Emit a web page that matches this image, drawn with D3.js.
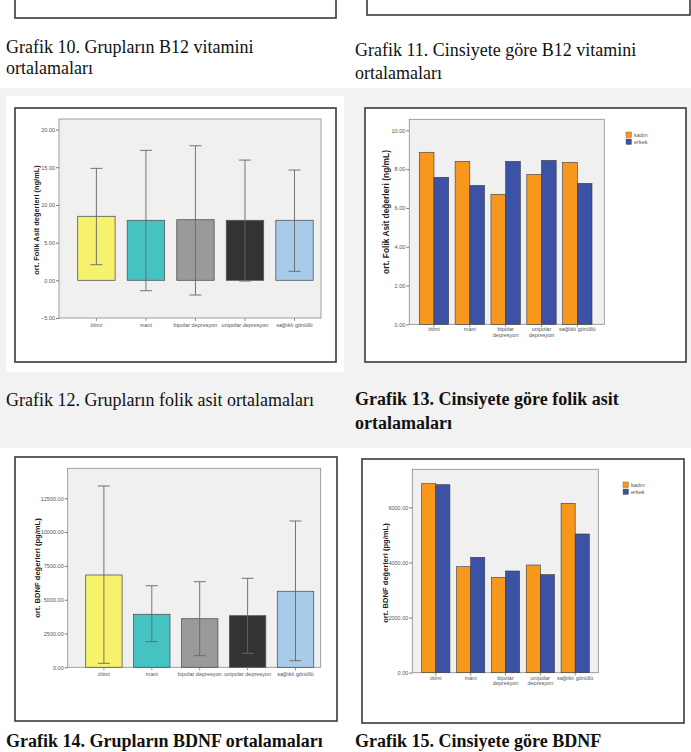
<!DOCTYPE html>
<html><head><meta charset="utf-8">
<script src="https://cdn.jsdelivr.net/npm/d3@7"></script>
<style>body{margin:0;background:#fff}svg{display:block}</style>
</head><body>
<script>
// ---------- DATA ----------
const groups = ["ötimi","mani","bipolar depresyon","unipolar depresyon","sağlıklı gönüllü"];
const groupLines = [["ötimi"],["mani"],["bipolar","depresyon"],["unipolar","depresyon"],["sağlıklı gönüllü"]];
const sexes = ["kadın","erkek"];
const groupColors = ["#f6f26c","#45c2c2","#9a9a9a","#333333","#a9cbea"];
const sexColors = ["#f7981d","#3c52a4"];

const folikMean = [8.49, 7.96, 8.04, 7.96, 7.96];
const folikLow  = [2.07, -1.38, -1.95, -0.10, 1.19];
const folikHigh = [14.85, 17.24, 17.85, 15.95, 14.63];
const folikTicks = [-5, 0, 5, 10, 15, 20];

const folikKadin = [8.87, 8.40, 6.70, 7.73, 8.35];
const folikErkek = [7.58, 7.16, 8.40, 8.45, 7.27];
const folikTicks2 = [0, 2, 4, 6, 8, 10];

const bdnfMean = [6827, 3920, 3595, 3817, 5621];
const bdnfLow  = [296, 1894, 858, 1035, 488];
const bdnfHigh = [13410, 6036, 6331, 6583, 10821];
const bdnfTicks = [0, 2500, 5000, 7500, 10000, 12500];

const bdnfKadin = [6858, 3846, 3461, 3908, 6146];
const bdnfErkek = [6821, 4187, 3690, 3556, 5033];
const bdnfTicks2 = [0, 2000, 4000, 6000];

const captions = [
  {x:6, y:53, lines:["Grafik 10. Grupların B12 vitamini","ortalamaları"], bold:false, lh:21},
  {x:355, y:56, lines:["Grafik 11. Cinsiyete göre B12 vitamini","ortalamaları"], bold:false, lh:23},
  {x:6, y:406, lines:["Grafik 12. Grupların folik asit ortalamaları"], bold:false, lh:23},
  {x:355, y:405, lines:["Grafik 13. Cinsiyete göre folik asit","ortalamaları"], bold:true, lh:24},
  {x:6, y:747, lines:["Grafik 14. Grupların BDNF ortalamaları"], bold:true, lh:23},
  {x:355, y:747, lines:["Grafik 15. Cinsiyete göre BDNF"], bold:true, lh:23}
];

// ---------- PAGE ----------
const W = 691, H = 752;
const svg = d3.select("body").append("svg").attr("width", W).attr("height", H);
svg.append("rect").attr("width", W).attr("height", H).attr("fill", "#fff");
// shaded table row
svg.append("rect").attr("x",0).attr("y",88).attr("width",W).attr("height",360).attr("fill","#f2f2f2");
svg.append("rect").attr("x",6).attr("y",96).attr("width",338).attr("height",276).attr("fill","#fff");

// partial boxes of charts 10 and 11 at top
function frame(x0,y0,x1,y1){
  svg.append("rect").attr("x",x0).attr("y",y0).attr("width",x1-x0).attr("height",y1-y0)
    .attr("fill","#fff").attr("stroke","#3a3a3a").attr("stroke-width",1.6);
}
frame(15,-10,336,18);
frame(367,-10,690,15);

// captions
captions.forEach(c => {
  const t = svg.append("text").attr("x", c.x).attr("y", c.y)
    .attr("font-family","'Liberation Serif','Times New Roman',serif")
    .attr("font-size", 18).attr("font-weight", c.bold ? "bold" : "normal").attr("fill","#111");
  c.lines.forEach((l,i) => t.append("tspan").attr("x", c.x).attr("dy", i ? c.lh : 0).text(l));
});

const tickFont = "'Liberation Sans',Arial,sans-serif";

function plotBase(o){
  frame(o.box[0],o.box[1],o.box[2],o.box[3]);
  const g = svg.append("g");
  const [pl,pt,pr,pb] = o.plot;
  g.append("rect").attr("x",pl).attr("y",pt).attr("width",pr-pl).attr("height",pb-pt)
    .attr("fill","#f0f0f0").attr("stroke","#8a8a8a").attr("stroke-width",0.8);
  const y = d3.scaleLinear().domain([o.y0, o.yTop]).range([pb, pt]);
  const yAxis = d3.axisLeft(y).tickValues(o.ticks).tickSize(3).tickPadding(1)
    .tickFormat(d3.format(".2f"));
  const ya = g.append("g").attr("transform",`translate(${pl},0)`).call(yAxis);
  ya.select(".domain").remove();
  ya.selectAll("line").attr("stroke","#777");
  ya.selectAll("text").attr("font-family",tickFont).attr("font-size",5.5).attr("fill","#555");
  g.append("text").attr("transform",`translate(${o.ylab[0]},${o.ylab[1]}) rotate(-90)`)
    .attr("text-anchor","middle").attr("font-family",tickFont).attr("font-weight","bold")
    .attr("font-size",o.ylabSize).attr("fill","#222").text(o.ylabel);
  return {g, y};
}

function xLabels(g, x, pb, lines, dy){
  groups.forEach((gname,i) => {
    const cx = x(gname) + x.bandwidth()/2;
    g.append("line").attr("x1",cx).attr("x2",cx).attr("y1",pb).attr("y2",pb+3).attr("stroke","#777").attr("stroke-width",0.8);
    const t = g.append("text").attr("x",cx).attr("y",pb+dy).attr("text-anchor","middle")
      .attr("font-family",tickFont).attr("font-size",5.5).attr("fill","#555");
    lines[i].forEach((l,k) => t.append("tspan").attr("x",cx).attr("dy",k?5.5:0).text(l));
  });
}

function errorChart(o){
  const {g, y} = plotBase(o);
  const [pl,pt,pr,pb] = o.plot;
  const x = d3.scaleBand().domain(groups).range([o.bandRange[0], o.bandRange[1]]).paddingInner(o.padIn).paddingOuter(0);
  g.selectAll(".bar").data(groups).enter().append("rect")
    .attr("x", d => x(d)).attr("width", x.bandwidth())
    .attr("y", (d,i) => y(o.mean[i])).attr("height", (d,i) => y(0) - y(o.mean[i]))
    .attr("fill", (d,i) => groupColors[i]).attr("stroke","#555").attr("stroke-width",0.8);
  groups.forEach((d,i) => {
    const cx = x(d) + x.bandwidth()/2;
    const c = "#666";
    g.append("line").attr("x1",cx).attr("x2",cx).attr("y1",y(o.low[i])).attr("y2",y(o.high[i])).attr("stroke",c).attr("stroke-width",0.9);
    [o.low[i], o.high[i]].forEach(v => g.append("line").attr("x1",cx-6).attr("x2",cx+6).attr("y1",y(v)).attr("y2",y(v)).attr("stroke",c).attr("stroke-width",0.9));
  });
  xLabels(g, x, pb, groups.map(d=>[d]), 9);
}

function groupedChart(o){
  const {g, y} = plotBase(o);
  const [pl,pt,pr,pb] = o.plot;
  const x = d3.scaleBand().domain(groups).range([o.bandRange[0], o.bandRange[1]]).paddingInner(o.padIn).paddingOuter(0);
  const xs = d3.scaleBand().domain(sexes).range([0, x.bandwidth()]);
  const series = [o.kadin, o.erkek];
  groups.forEach((gname,i) => {
    sexes.forEach((s,k) => {
      g.append("rect").attr("x", x(gname)+xs(s)).attr("width", xs.bandwidth())
        .attr("y", y(series[k][i])).attr("height", y(0)-y(series[k][i]))
        .attr("fill", sexColors[k]).attr("stroke","#3a3a3a").attr("stroke-width",0.6);
    });
  });
  xLabels(g, x, pb, groupLines, 7);
  sexes.forEach((s,k) => {
    g.append("rect").attr("x",o.leg[0]).attr("y",o.leg[1]+k*7).attr("width",5.5).attr("height",5.5)
      .attr("fill",sexColors[k]).attr("stroke","#555").attr("stroke-width",0.4);
    g.append("text").attr("x",o.leg[0]+8).attr("y",o.leg[1]+k*7+5).attr("font-family",tickFont)
      .attr("font-size",5.5).attr("fill","#555").text(s);
  });
}

// Chart 12
errorChart({box:[15,108,336,362], plot:[59,119,321,318], y0:-5, yTop:21.4, ticks:folikTicks,
  ylabel:"ort. Folik Asit değerleri (ng/mL)", ylab:[39,220], ylabSize:7.4,
  bandRange:[77.7,313.2], padIn:0.245, mean:folikMean, low:folikLow, high:folikHigh});
// Chart 13
groupedChart({box:[365,108,686,362], plot:[409.3,119.3,604.3,324.3], y0:0, yTop:10.57, ticks:folikTicks2,
  ylabel:"ort. Folik Asit değerleri (ng/mL)", ylab:[389,212], ylabSize:8.4,
  bandRange:[419.3,592], padIn:0.18, kadin:folikKadin, erkek:folikErkek, leg:[626,132]});
// Chart 14
errorChart({box:[15,457,337,721], plot:[67.7,468.3,320.7,667.3], y0:0, yTop:14719, ticks:bdnfTicks,
  ylabel:"ort. BDNF değerleri (pg/mL)", ylab:[40,568], ylabSize:7.6,
  bandRange:[85.7,313.7], padIn:0.24, mean:bdnfMean, low:bdnfLow, high:bdnfHigh});
// Chart 15
groupedChart({box:[362,459,684,723], plot:[412.3,469.3,598.3,672.7], y0:0, yTop:7380, ticks:bdnfTicks2,
  ylabel:"ort. BDNF değerleri (pg/mL)", ylab:[388,573], ylabSize:7.6,
  bandRange:[421.7,589.3], padIn:0.19, kadin:bdnfKadin, erkek:bdnfErkek, leg:[623,482]});
</script>
</body></html>
